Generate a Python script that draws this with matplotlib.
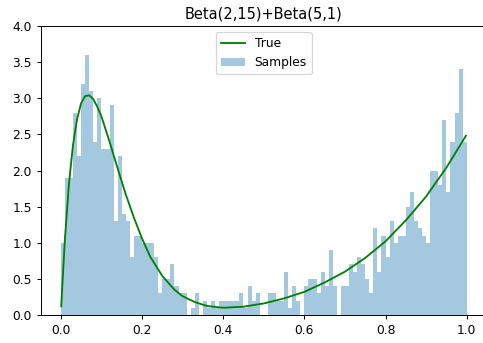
import numpy as np
import matplotlib.pyplot as plt

# histogram heights (density) for 100 equal bins on [0, 1]
heights = [1.0, 1.9, 1.9, 2.8, 2.2, 3.2, 3.6, 3.1, 2.4, 3.0,
           2.3, 2.3, 2.9, 1.3, 2.2, 1.4, 1.3, 0.8, 1.1, 1.1,
           1.0, 1.0, 1.0, 0.8, 0.3, 0.5, 0.5, 0.7, 0.4, 0.3,
           0.3, 0.0, 0.1, 0.3, 0.0, 0.2, 0.1, 0.2, 0.1, 0.2,
           0.2, 0.2, 0.2, 0.2, 0.3, 0.1, 0.4, 0.2, 0.3, 0.0,
           0.0, 0.3, 0.3, 0.2, 0.2, 0.6, 0.1, 0.4, 0.2, 0.0,
           0.4, 0.5, 0.5, 0.3, 0.6, 0.4, 0.9, 0.4, 0.0, 0.4,
           0.4, 0.7, 0.6, 0.8, 0.7, 0.5, 0.3, 1.2, 0.6, 1.1,
           0.8, 1.3, 1.0, 1.1, 1.1, 1.5, 1.7, 1.3, 1.2, 1.1,
           1.0, 2.0, 2.0, 1.8, 2.7, 1.7, 2.4, 2.8, 3.4, 2.4]

# "True" density curve
curve_x = [0.001, 0.01, 0.02, 0.03, 0.04, 0.05, 0.06, 0.07, 0.08, 0.09,
           0.10, 0.12, 0.14, 0.16, 0.18, 0.20, 0.22, 0.25, 0.28, 0.30,
           0.33, 0.36, 0.40, 0.45, 0.50, 0.55, 0.60, 0.65, 0.70, 0.75,
           0.80, 0.85, 0.90, 0.95, 0.998]
curve_y = [0.12, 1.04, 1.81, 2.35, 2.71, 2.93, 3.03, 3.04, 2.99, 2.88,
           2.75, 2.40, 2.03, 1.67, 1.35, 1.06, 0.81, 0.54, 0.35, 0.26,
           0.18, 0.125, 0.10, 0.115, 0.16, 0.23, 0.32, 0.45, 0.60, 0.79,
           1.02, 1.31, 1.64, 2.04, 2.48]

edges = np.linspace(0, 1, len(heights) + 1)
centers = (edges[:-1] + edges[1:]) / 2

fig = plt.figure(figsize=(483 / 88, 343 / 88), dpi=88)
# axes box (right edge falls just outside the picture, like the reference)
ax = fig.add_axes([40.5 / 483, 1 - 315 / 343, (487 - 40.5) / 483, (315 - 26) / 343])

ax.plot(curve_x, curve_y, color='green', label='True')
ax.hist(centers, bins=edges, weights=heights, color='C0', alpha=0.4, label='Samples')

ax.set_xlim(-0.05, 1.05)
ax.set_ylim(0, 4)
ax.set_title('Beta(2,15)+Beta(5,1)')
ax.legend(loc='upper center')

fig.savefig('out.png', dpi=88)
